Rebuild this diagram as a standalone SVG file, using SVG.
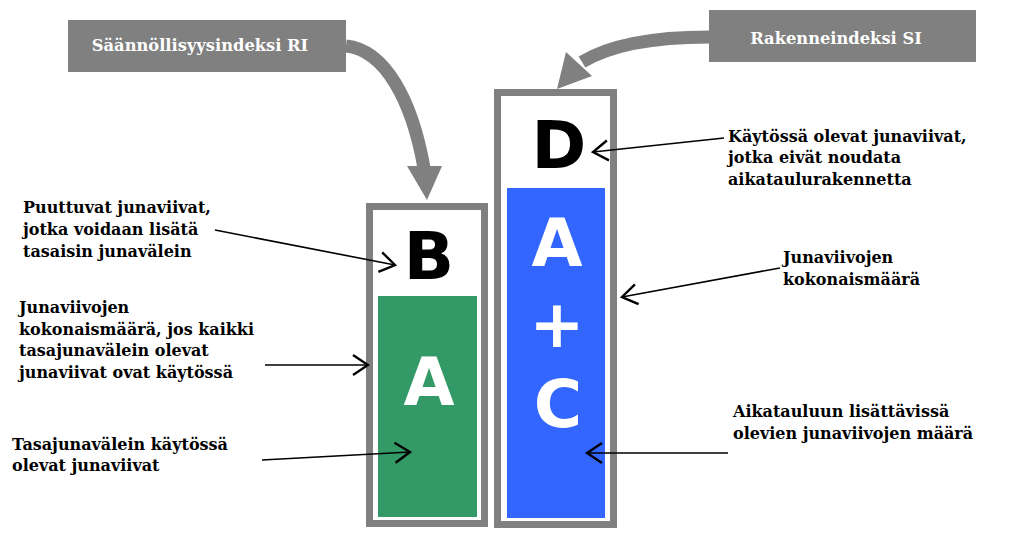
<svg xmlns="http://www.w3.org/2000/svg" width="1024" height="550" viewBox="0 0 1024 550">
  <defs>
    <style>
      .hdr { fill: #808080; }
      .hdrtxt { fill: #ffffff; font-family: "DejaVu Serif", "Liberation Serif", serif; font-weight: bold; font-size: 16.3px; text-anchor: middle; }
      .frame { fill: #ffffff; stroke: #808080; stroke-width: 7; }
      .big { font-family: "DejaVu Sans", "Liberation Sans", sans-serif; font-weight: bold; font-size: 66px; text-anchor: middle; }
      .lbl { fill: #000000; font-family: "DejaVu Serif", "Liberation Serif", serif; font-weight: bold; font-size: 16px; }
      .thin { fill: none; stroke: #000000; stroke-width: 1.6; marker-end: url(#vhead); }
      .thick { fill: none; stroke: #808080; stroke-width: 13; }
      .head { fill: #808080; }
    </style>
    <marker id="vhead" markerUnits="userSpaceOnUse" viewBox="-18 -12 20 24" refX="0" refY="0" markerWidth="20" markerHeight="24" orient="auto">
      <path d="M-15,-10 L0,0 L-15,10" fill="none" stroke="#000000" stroke-width="2.4" stroke-linejoin="miter"/>
    </marker>
  </defs>

  <rect width="1024" height="550" fill="#ffffff"/>

  <g id="node-ri">
    <rect class="hdr" x="68" y="20" width="278" height="52"/>
    <text class="hdrtxt" x="200" y="51">Säännöllisyysindeksi RI</text>
  </g>

  <g id="node-si">
    <rect class="hdr" x="709" y="10" width="267" height="52"/>
    <text class="hdrtxt" x="836" y="44">Rakenneindeksi SI</text>
  </g>

  <g id="node-bar-left">
    <rect class="frame" x="369.5" y="206.5" width="115" height="317"/>
    <rect x="378" y="296" width="99" height="221" fill="#339966"/>
    <text class="big" x="429" y="279" fill="#000000">B</text>
    <text class="big" x="429" y="405" fill="#ffffff">A</text>
  </g>

  <g id="node-bar-right">
    <rect class="frame" x="497.5" y="92.5" width="116" height="432"/>
    <rect x="507" y="188" width="98" height="330" fill="#3366ff"/>
    <text class="big" x="559" y="168" fill="#000000">D</text>
    <text class="big" x="557" y="266" fill="#ffffff">A</text>
    <text class="big" x="557" y="347" fill="#ffffff">+</text>
    <text class="big" x="558" y="427" fill="#ffffff">C</text>
  </g>

  <g id="labels">
    <text class="lbl" x="23" y="213">Puuttuvat junaviivat,</text>
    <text class="lbl" x="23" y="235">jotka voidaan lisätä</text>
    <text class="lbl" x="23" y="257">tasaisin junavälein</text>

    <text class="lbl" x="19" y="313">Junaviivojen</text>
    <text class="lbl" x="19" y="335">kokonaismäärä, jos kaikki</text>
    <text class="lbl" x="19" y="356">tasajunavälein olevat</text>
    <text class="lbl" x="19" y="378">junaviivat ovat käytössä</text>

    <text class="lbl" x="12" y="450">Tasajunavälein käytössä</text>
    <text class="lbl" x="12" y="471">olevat junaviivat</text>

    <text class="lbl" x="728" y="142">Käytössä olevat junaviivat,</text>
    <text class="lbl" x="728" y="163">jotka eivät noudata</text>
    <text class="lbl" x="728" y="185">aikataulurakennetta</text>

    <text class="lbl" x="783" y="263">Junaviivojen</text>
    <text class="lbl" x="783" y="285">kokonaismäärä</text>

    <text class="lbl" x="733" y="417">Aikatauluun lisättävissä</text>
    <text class="lbl" x="733" y="439">olevien junaviivojen määrä</text>
  </g>

  <g id="connectors">
    <path class="thick" d="M346,46 C385,50 412,100 424,168"/>
    <polygon class="head" points="407,166 442,166 427,200"/>
    <path class="thick" d="M709,37 C660,37 612,44 582,62"/>
    <polygon class="head" points="566,52 592,76 557,89"/>

    <path class="thin" d="M215,230 L395,265"/>
    <path class="thin" d="M265,365 L368,365"/>
    <path class="thin" d="M262,460 L410,452"/>
    <path class="thin" d="M724,138 L593,152"/>
    <path class="thin" d="M780,268 L622,297"/>
    <path class="thin" d="M728,453 L587,453"/>
  </g>
</svg>
